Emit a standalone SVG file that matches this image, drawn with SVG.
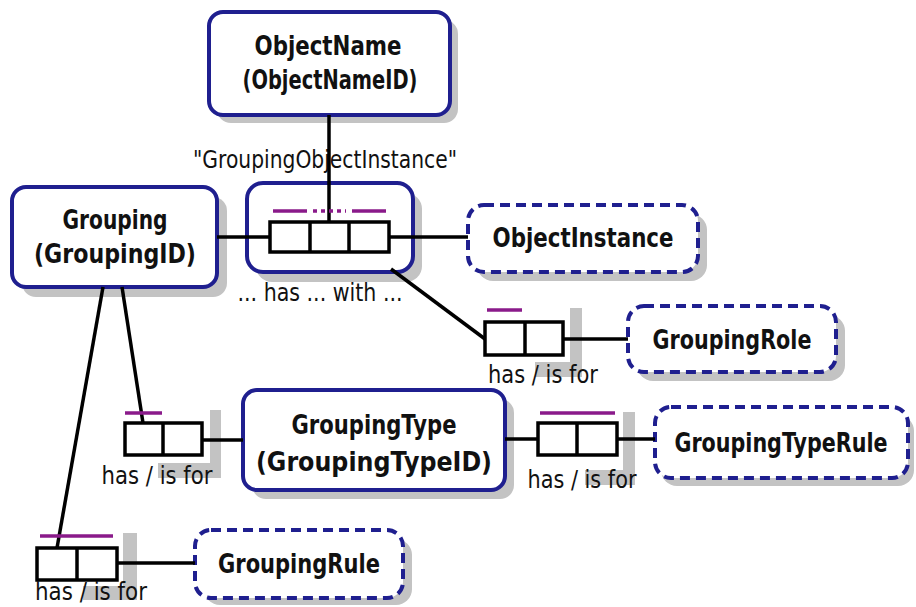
<svg xmlns="http://www.w3.org/2000/svg" width="916" height="607" viewBox="0 0 916 607">
<defs>
<style>
.sh{fill:#c3c3c3;stroke:none}
.ent{fill:#fff;stroke:#1f1f8f;stroke-width:4}
.val{fill:#fff;stroke:#1f1f8f;stroke-width:4;stroke-dasharray:10 6}
.role{fill:#fff;stroke:#000;stroke-width:3.5}
.ln{stroke:#000;stroke-width:3.5;fill:none}
.uc{stroke:#8a1a8a;stroke-width:3.5;fill:none}
.b{font-family:"DejaVu Sans","Liberation Sans",sans-serif;font-weight:bold;font-size:27px;fill:#111}
.r{font-family:"DejaVu Sans","Liberation Sans",sans-serif;font-size:24px;fill:#111}
</style>
</defs>
<rect width="916" height="607" fill="#fff"/>

<g id="shadows">
<rect class="sh" x="570" y="308" width="12" height="69"/>
<rect class="sh" x="535" y="362" width="47" height="15"/>
<rect class="sh" x="210" y="410" width="11" height="68"/>
<rect class="sh" x="158" y="463" width="63" height="15"/>
<rect class="sh" x="623" y="412" width="12" height="73"/>
<rect class="sh" x="585" y="470" width="50" height="15"/>
<rect class="sh" x="123" y="533" width="14" height="67"/>
<rect class="sh" x="83" y="586" width="54" height="14"/>
</g>

<g id="ObjectName">
<rect class="sh" x="217" y="20" width="241" height="103" rx="14"/>
<rect class="ent" x="209" y="12" width="241" height="103" rx="14"/>
<text class="b" x="328" y="55" text-anchor="middle" textLength="147" lengthAdjust="spacingAndGlyphs">ObjectName</text>
<text class="b" x="330" y="89" text-anchor="middle" textLength="175" lengthAdjust="spacingAndGlyphs">(ObjectNameID)</text>
</g>

<g id="Grouping">
<rect class="sh" x="22" y="197" width="205" height="100" rx="14"/>
<rect class="ent" x="12" y="187" width="205" height="100" rx="14"/>
<text class="b" x="115" y="229" text-anchor="middle" textLength="105" lengthAdjust="spacingAndGlyphs">Grouping</text>
<text class="b" x="115" y="263" text-anchor="middle" textLength="162" lengthAdjust="spacingAndGlyphs">(GroupingID)</text>
</g>

<g id="GroupingObjectInstance">
<rect class="sh" x="256" y="193" width="166" height="89" rx="16"/>
<rect class="ent" x="247" y="183" width="166" height="89" rx="16"/>
<text class="r" x="325" y="168" text-anchor="middle" textLength="264" lengthAdjust="spacingAndGlyphs">"GroupingObjectInstance"</text>
<text class="r" x="320" y="301" text-anchor="middle" textLength="165" lengthAdjust="spacingAndGlyphs">... has ... with ...</text>
</g>

<g id="ObjectInstance">
<rect class="sh" x="477" y="214" width="230" height="67" rx="16"/>
<rect class="val" x="468" y="205" width="230" height="67" rx="16"/>
<text class="b" x="583" y="247" text-anchor="middle" textLength="181" lengthAdjust="spacingAndGlyphs">ObjectInstance</text>
</g>

<g id="GroupingRole">
<rect class="sh" x="637" y="315" width="208" height="66" rx="16"/>
<rect class="val" x="628" y="306" width="208" height="66" rx="16"/>
<text class="b" x="732" y="349" text-anchor="middle" textLength="159" lengthAdjust="spacingAndGlyphs">GroupingRole</text>
</g>

<g id="GroupingTypeRule">
<rect class="sh" x="661" y="415" width="253" height="71" rx="16"/>
<rect class="val" x="655" y="407" width="253" height="71" rx="16"/>
<text class="b" transform="translate(781,452) scale(0.766,1)" x="0" y="0" text-anchor="middle">GroupingTypeRule</text>
</g>

<g id="GroupingType">
<rect class="sh" x="252" y="399" width="262" height="100" rx="14"/>
<rect class="ent" x="243" y="390" width="262" height="100" rx="14"/>
<text class="b" x="374" y="434" text-anchor="middle" textLength="165" lengthAdjust="spacingAndGlyphs">GroupingType</text>
<text class="b" x="374" y="471" text-anchor="middle" textLength="236" lengthAdjust="spacingAndGlyphs">(GroupingTypeID)</text>
</g>

<g id="GroupingRule">
<rect class="sh" x="204" y="539" width="208" height="66" rx="16"/>
<rect class="val" x="195" y="530" width="208" height="68" rx="16"/>
<text class="b" x="299" y="573" text-anchor="middle" textLength="162" lengthAdjust="spacingAndGlyphs">GroupingRule</text>
</g>

<g id="connectors">
<line class="ln" x1="329" y1="115" x2="329" y2="222"/>
<line class="ln" x1="217" y1="237" x2="270" y2="237"/>
<line class="ln" x1="389" y1="237" x2="468" y2="237"/>
<line class="ln" x1="391" y1="269" x2="485" y2="339"/>
<line class="ln" x1="563" y1="339" x2="628" y2="339"/>
<line class="ln" x1="122" y1="287" x2="143" y2="423"/>
<line class="ln" x1="103" y1="287" x2="57" y2="548"/>
<line class="ln" x1="202" y1="440" x2="243" y2="440"/>
<line class="ln" x1="505" y1="439" x2="538" y2="439"/>
<line class="ln" x1="617" y1="439" x2="655" y2="439"/>
<line class="ln" x1="117" y1="563" x2="195" y2="563"/>
</g>

<g id="fact-GroupingObjectInstance">
<rect class="role" x="270" y="222" width="119" height="30"/>
<line class="ln" x1="310" y1="222" x2="310" y2="252"/>
<line class="ln" x1="349" y1="222" x2="349" y2="252"/>
<line class="uc" x1="273" y1="211" x2="307" y2="211"/>
<line class="uc" x1="313" y1="211" x2="346" y2="211" stroke-dasharray="4 4"/>
<line class="uc" x1="352" y1="211" x2="386" y2="211"/>
</g>

<g id="fact-GroupingRole">
<rect class="role" x="485" y="322" width="78" height="33"/>
<line class="ln" x1="525" y1="322" x2="525" y2="355"/>
<line class="uc" x1="487" y1="310" x2="522" y2="310"/>
<text class="r" x="543" y="383" text-anchor="middle" textLength="110" lengthAdjust="spacingAndGlyphs">has / is for</text>
</g>

<g id="fact-GroupingType">
<rect class="role" x="125" y="423" width="77" height="32"/>
<line class="ln" x1="163" y1="423" x2="163" y2="455"/>
<line class="uc" x1="125" y1="413" x2="162" y2="413"/>
<text class="r" x="157" y="484" text-anchor="middle" textLength="111" lengthAdjust="spacingAndGlyphs">has / is for</text>
</g>

<g id="fact-GroupingTypeRule">
<rect class="role" x="538" y="423" width="79" height="32"/>
<line class="ln" x1="577" y1="423" x2="577" y2="455"/>
<line class="uc" x1="540" y1="413" x2="615" y2="413"/>
<text class="r" x="582" y="488" text-anchor="middle" textLength="109" lengthAdjust="spacingAndGlyphs">has / is for</text>
</g>

<g id="fact-GroupingRule">
<rect class="role" x="37" y="548" width="80" height="32"/>
<line class="ln" x1="77" y1="548" x2="77" y2="580"/>
<line class="uc" x1="40" y1="536" x2="113" y2="536"/>
<text class="r" x="91" y="600" text-anchor="middle" textLength="112" lengthAdjust="spacingAndGlyphs">has / is for</text>
</g>
</svg>
